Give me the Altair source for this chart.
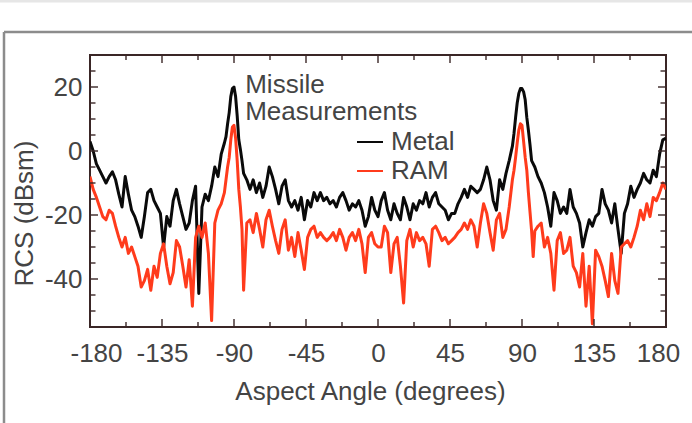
import altair as alt
import pandas as pd

# Radar cross section vs aspect angle, metal missile and RAM-coated missile
metal_angle = [
    -180, -178, -176, -174, -172, -170, -168, -166, -164, -162, -160, -158, -156, -154,
    -152, -150, -148, -146, -144, -142, -140, -138, -136, -134, -132, -130, -128, -126,
    -124, -122, -120, -118, -116, -114, -112, -110, -108, -106, -104, -102, -100, -98,
    -96, -95, -94, -93, -92, -91, -90, -89, -88, -87, -86, -85, -84, -82, -80, -78,
    -76, -74, -72, -70, -68, -66, -64, -62, -60, -58, -56, -54, -52, -50, -48, -46,
    -44, -42, -40, -38, -36, -34, -32, -30, -28, -26, -24, -22, -20, -18, -16, -14,
    -12, -10, -8, -6, -4, -2, 0, 2, 4, 6, 8, 10, 12, 14, 16, 18, 20, 22, 24, 26, 28,
    30, 32, 34, 36, 38, 40, 42, 44, 46, 48, 50, 52, 54, 56, 58, 60, 62, 64, 66, 68,
    70, 72, 74, 76, 78, 80, 82, 84, 85, 86, 87, 88, 89, 90, 91, 92, 93, 94, 95, 96,
    98, 100, 102, 104, 106, 108, 110, 112, 114, 116, 118, 120, 122, 124, 126, 128,
    130, 132, 134, 136, 138, 140, 142, 144, 146, 148, 150, 152, 154, 156, 158, 160,
    162, 164, 166, 168, 170, 172, 174, 176, 178, 180,
]
metal_rcs = [
    3, 0, -4, -6, -8, -10, -8, -6.5, -9, -13.5, -17.5, -8, -13.5, -18.5,
    -20.5, -23.5, -27, -20.5, -13, -12, -15.5, -17.5, -19.5, -30, -20.5, -23.5, -15.5, -12,
    -16.5, -20.5, -24.5, -22.5, -15.5, -11, -44.5, -17.5, -13.5, -15.5, -11, -5, -8, -1,
    2.5, 4.5, 8.5, 12, 17, 19.5, 20, 17, 11, 3.5, 0.5, -3, -7, -9, -12, -9,
    -13, -10, -14.5, -11, -5, -8, -12, -16.5, -11, -9, -15.5, -17.5, -15.5, -18.5, -14.5, -21.5,
    -15.5, -17.5, -13, -15.5, -13, -15.5, -14.5, -16.5, -15.5, -17.5, -14.5, -13, -15.5, -18.5, -16.5, -17.5,
    -15.5, -18.5, -23.5, -20.5, -14.5, -18.5, -20.5, -15.5, -13, -18.5, -21.5, -16.5, -19.5, -21.5, -14.5, -17.5, -21.5, -16.5, -18.5, -15.5, -16.5,
    -13, -17.5, -14.5, -13, -16.5, -17.5, -18.5, -21.5, -19.5, -19.5, -16.5, -14.5, -12, -14.5, -11, -12, -13, -12, -9, -5,
    -9, -15.5, -18.5, -9, -12, -7, -3, 1.5, 5.5, 10.5, 15, 18, 19.5, 19.5, 18.5, 16, 10.5, 6.5, 2, -3,
    -5, -8, -10, -13, -17.5, -23.5, -13, -15.5, -19.5, -17.5, -19.5, -12, -17.5, -19.5, -22.5, -30,
    -25.5, -21.5, -23.5, -20.5, -19.5, -12, -16.5, -18.5, -22.5, -16.5, -24.5, -32, -19.5, -16.5, -11, -14.5,
    -12, -10, -7, -9, -10, -6, -8, -1, 3.5, 4,
]

ram_angle = [
    -180, -178, -176, -174, -172, -170, -168, -166, -164, -162, -160, -158, -156, -154,
    -152, -150, -148, -146, -144, -142, -140, -138, -136, -134, -132, -130, -128, -126,
    -124, -122, -120, -118, -116, -114, -112, -110, -108, -106, -104, -102, -100, -98,
    -96, -95, -94, -93, -92, -91, -90, -89, -88, -87, -86, -85, -84, -82, -80, -78,
    -76, -74, -72, -70, -68, -66, -64, -62, -60, -58, -56, -54, -52, -50, -48, -46,
    -44, -42, -40, -38, -36, -34, -32, -30, -28, -26, -24, -22, -20, -18, -16, -14,
    -12, -10, -8, -6, -4, -2, 0, 2, 4, 6, 8, 10, 12, 14, 16, 18, 20, 22, 24, 26, 28,
    30, 32, 34, 36, 38, 40, 42, 44, 46, 48, 50, 52, 54, 56, 58, 60, 62, 64, 66, 68,
    70, 72, 74, 76, 78, 80, 82, 84, 85, 86, 87, 88, 89, 90, 91, 92, 93, 94, 95, 96,
    97, 98, 100, 102, 104, 106, 108, 110, 112, 114, 116, 118, 120, 122, 124, 126, 128,
    130, 132, 134, 136, 138, 140, 142, 144, 146, 148, 150, 152, 154, 156, 158, 160,
    162, 164, 166, 168, 170, 172, 174, 176, 178, 180,
]
ram_rcs = [
    -8, -12, -14.5, -17.5, -20.5, -21.5, -18.5, -19.5, -23.5, -27, -30, -27, -32, -30,
    -33, -36, -42.5, -40.5, -37, -43.5, -36, -39.5, -32, -29, -36, -41.5, -38, -28,
    -30, -36, -42.5, -34, -48.5, -27, -23.5, -27, -22.5, -32, -53, -22.5, -18.5, -16.5,
    -13, -9, -5, -2, 3.5, 7.5, 8, 4, -3, -12, -17.5, -24.5, -43.5, -22.5, -21.5, -25.5,
    -19.5, -24.5, -30, -21.5, -18.5, -23.5, -28, -32, -24.5, -21.5, -31, -27, -33, -25.5, -31, -37,
    -27, -24.5, -23.5, -27, -25.5, -27, -28, -27, -25.5, -28, -24.5, -27, -31, -27, -25.5, -28,
    -24.5, -29, -38, -27, -25.5, -29, -30, -30, -23.5, -25.5, -38, -29, -27, -36, -47.5, -28, -24.5, -30, -25.5, -28, -27,
    -29, -36, -24.5, -23.5, -25.5, -28, -27, -29, -28, -27, -25.5, -24.5, -22.5, -24.5, -21.5, -23.5, -30, -22.5, -16.5, -19.5,
    -25.5, -31, -21.5, -19.5, -27, -24.5, -17.5, -9, -6, -2, 2.5, 6.5, 8.5, 8, 3, -2, -6, -13, -19, -25,
    -33, -25, -23.5, -22.5, -30, -27, -32, -43.5, -28, -25.5, -32, -31, -27, -36, -38, -42.5, -32,
    -48.5, -36, -54, -31, -33, -36, -40.5, -45.5, -32, -40.5, -44.5, -30, -29, -28, -30, -27,
    -23.5, -18.5, -21.5, -16.5, -20.5, -14.5, -15.5, -13, -10, -12,
]

x_major = [-180, -135, -90, -45, 0, 45, 90, 135, 180]
x_minor = [-157.5, -112.5, -67.5, -22.5, 22.5, 67.5, 112.5, 157.5]
y_major = [-40, -20, 0, 20]
y_minor = [v for v in range(-50, 30, 5) if v not in y_major]

note_lines = ["Missile", "Measurements"]
note_angle = [-83, -83]
note_rcs = [18.1, 9.7]

FONT = "Liberation Sans"
TEXT = "#444444"
FRAME = "#3a2626"

curves_df = pd.DataFrame({
    "angle": metal_angle + ram_angle,
    "rcs": metal_rcs + ram_rcs,
    "target": ["Metal"] * len(metal_angle) + ["RAM"] * len(ram_angle),
})

x_scale = alt.Scale(domain=[-180, 180], nice=False, zero=False)
y_scale = alt.Scale(domain=[-55, 30], nice=False, zero=False)

x_axis = alt.Axis(
    values=x_major, ticks=False, domain=False, grid=False,
    labelExpr="'' + datum.value", labelOverlap=False, labelFlush=False,
    labelOffset={"condition": [
        {"test": "datum.value == -180", "value": 6},
        {"test": "datum.value == 180", "value": -8},
    ], "value": 0},
    labelFont=FONT, labelFontSize=26, labelColor=TEXT, labelPadding=13,
    title="Aspect Angle (degrees)", titleFont=FONT, titleFontSize=26,
    titleColor=TEXT, titleFontWeight="normal",
    titleX=280, titleY=72, titleAlign="center", titleBaseline="alphabetic",
)
y_axis = alt.Axis(
    values=y_major, ticks=False, domain=False, grid=False,
    labelExpr="'' + datum.value", labelOverlap=False, labelFlush=False,
    labelFont=FONT, labelFontSize=26, labelColor=TEXT, labelPadding=8,
    title="RCS (dBsm)", titleFont=FONT, titleFontSize=26,
    titleColor=TEXT, titleFontWeight="normal",
    titleX=-66, titleY=158, titleAngle=270,
    titleAlign="center", titleBaseline="middle",
)

curves = alt.Chart(curves_df).mark_line(
    strokeWidth=3, strokeJoin="round", clip=True
).encode(
    x=alt.X("angle:Q", scale=x_scale, axis=x_axis),
    y=alt.Y("rcs:Q", scale=y_scale, axis=y_axis),
    color=alt.Color(
        "target:N",
        scale=alt.Scale(domain=["Metal", "RAM"], range=["#0a0a0a", "#ff3b1c"]),
        legend=alt.Legend(
            orient="none", legendX=266, legendY=73, title=None,
            symbolType="stroke", symbolSize=676, symbolStrokeWidth=2,
            labelFont=FONT, labelFontSize=26, labelColor=TEXT,
            labelOffset=7, rowPadding=2, padding=0,
        ),
    ),
)

# inward tick marks on all four sides of the frame
xt_rows = [(a, e, 16) for a in x_major for e in (-55, 30)] + \
          [(a, e, 10) for a in x_minor for e in (-55, 30)]
xt_df = pd.DataFrame(xt_rows, columns=["angle", "rcs", "len"])
x_ticks = alt.Chart(xt_df).mark_tick(
    orient="vertical", thickness=2, color=FRAME, clip=True
).encode(
    x=alt.X("angle:Q", scale=x_scale),
    y=alt.Y("rcs:Q", scale=y_scale),
    size=alt.Size("len:Q", scale=None, legend=None),
)

yt_rows = [(e, v, 16) for v in y_major for e in (-180, 180)] + \
          [(e, v, 11) for v in y_minor for e in (-180, 180)]
yt_df = pd.DataFrame(yt_rows, columns=["angle", "rcs", "len"])
y_ticks = alt.Chart(yt_df).mark_tick(
    orient="horizontal", thickness=2, color=FRAME, clip=True
).encode(
    x=alt.X("angle:Q", scale=x_scale),
    y=alt.Y("rcs:Q", scale=y_scale),
    size=alt.Size("len:Q", scale=None, legend=None),
)

notes_df = pd.DataFrame({"label": note_lines, "angle": note_angle, "rcs": note_rcs})
notes = alt.Chart(notes_df).mark_text(
    align="left", baseline="alphabetic", font=FONT, fontSize=26, color=TEXT
).encode(
    x=alt.X("angle:Q", scale=x_scale),
    y=alt.Y("rcs:Q", scale=y_scale),
    text="label:N",
)

# page frame around the figure
one = pd.DataFrame({"k": [0]})
top_strip = alt.Chart(one).mark_rule(color="#e6e6e6", strokeWidth=3).encode(
    x=alt.value(-90), x2=alt.value(602), y=alt.value(-54)
)
top_line = alt.Chart(one).mark_rule(color="#8c8c8c", strokeWidth=2.5).encode(
    x=alt.value(-86), x2=alt.value(602), y=alt.value(-23)
)
left_line = alt.Chart(one).mark_rule(color="#8c8c8c", strokeWidth=2.5).encode(
    x=alt.value(-86), y=alt.value(-23), y2=alt.value(370)
)

chart = alt.layer(
    curves, x_ticks, y_ticks, notes, top_strip, top_line, left_line
).properties(
    width=576, height=272,
    autosize=alt.AutoSizeParams(type="none"),
    padding={"left": 90, "top": 55, "right": 26, "bottom": 96},
).configure_view(
    stroke=FRAME, strokeWidth=2
)

chart.save("out.html", embed_options={"renderer": "svg", "actions": False})
